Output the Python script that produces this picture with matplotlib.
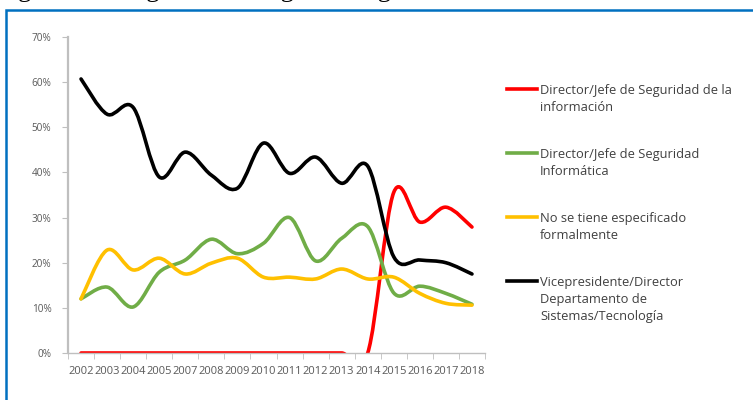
import matplotlib.pyplot as plt
from matplotlib.path import Path
from matplotlib.patches import PathPatch, Rectangle
from matplotlib.lines import Line2D

# values (percent)
years = ['2002', '2003', '2004', '2005', '2007', '2008', '2009', '2010',
         '2011', '2012', '2013', '2014', '2015', '2016', '2017', '2018']
red = [0, 0, 0, 0, 0, 0, 0, 0, 0, 0, 0, 0, 35.6, 29.0, 32.3, 27.9]
green = [12.0, 14.6, 10.2, 17.9, 20.6, 25.2, 22.0, 24.3, 30.0, 20.4, 25.4, 28.0, 13.3, 14.8, 13.2, 10.8]
yellow = [12.0, 22.8, 18.4, 21.0, 17.5, 19.9, 21.0, 16.8, 16.8, 16.4, 18.6, 16.4, 16.8, 13.2, 11.0, 10.6]
black = [60.7, 52.9, 54.4, 39.0, 44.5, 39.4, 36.5, 46.5, 39.8, 43.4, 37.6, 41.4, 21.3, 20.6, 20.0, 17.5]

labels = ['Director/Jefe de Seguridad de la\ninformación',
          'Director/Jefe de Seguridad\nInformática',
          'No se tiene especificado\nformalmente',
          'Vicepresidente/Director\nDepartamento de\nSistemas/Tecnología']
colors = ['#FF0000', '#70AD47', '#FFC000', '#000000']
series = [red, green, yellow, black]

W, H = 753, 400
fx = lambda px: px / W
fy = lambda py: 1 - py / H

fig = plt.figure(figsize=(W / 100, H / 100), dpi=100)
font = 'Open Sans'

# caption cut off at the top of the page (only the bottom of the letters shows)
fig.text(fx(-4), fy(-3), 'Figura 4. Categorías de cargos de seguridad de la información',
         family='Liberation Serif', fontsize=19, va='baseline', ha='left')
# blue frame
fig.add_artist(Rectangle((fx(6), fy(420)), fx(800), 410 / H, transform=fig.transFigure,
                         fill=False, edgecolor='#0070C0', lw=1.8))

ax = fig.add_axes([fx(68), fy(353), fx(485) - fx(68), (353 - 37) / H])


def smooth_path(y):
    # Excel-like smoothed line as cubic bezier segments
    n = len(y)
    x = list(range(n))
    verts = [(x[0], y[0])]
    codes = [Path.MOVETO]
    for i in range(n - 1):
        a = max(i - 1, 0)
        b = min(i + 2, n - 1)
        c1 = (x[i] + (x[i + 1] - x[a]) / 6, y[i] + (y[i + 1] - y[a]) / 6)
        c2 = (x[i + 1] - (x[b] - x[i]) / 6, y[i + 1] - (y[b] - y[i]) / 6)
        verts += [c1, c2, (x[i + 1], y[i + 1])]
        codes += [Path.CURVE4] * 3
    return Path(verts, codes)


clip = Rectangle((0, -0.004), 1, 1.004, transform=ax.transAxes, visible=False)
ax.add_patch(clip)
for vals, col in zip(series, colors):
    p = PathPatch(smooth_path(vals), fill=False, edgecolor=col, lw=2.6,
                  capstyle='round', joinstyle='round')
    ax.add_patch(p)
    p.set_clip_path(clip)

ax.set_xlim(-0.5, len(years) - 0.5)
ax.set_ylim(0, 70)
ax.set_yticks(range(0, 71, 10))
ax.set_yticklabels([f'{v}%' for v in range(0, 71, 10)])
ax.set_xticks(range(len(years)))
ax.set_xticklabels(years)
ax.set_xticks([i - 0.5 for i in range(len(years) + 1)], minor=True)
ax.tick_params(axis='x', which='major', length=0, pad=9, labelsize=8, labelcolor='#595959')
ax.tick_params(axis='x', which='minor', length=4, color='#BFBFBF', direction='out')
ax.tick_params(axis='y', length=4, color='#BFBFBF', pad=8, labelsize=7.2, labelcolor='#595959')
for lab in ax.get_xticklabels() + ax.get_yticklabels():
    lab.set_family(font)
for s in ['top', 'right']:
    ax.spines[s].set_visible(False)
ax.spines['left'].set_color('#BFBFBF')
ax.spines['left'].set_linewidth(1.6)
ax.spines['bottom'].set_color('#BFBFBF')
ax.spines['bottom'].set_linewidth(1.0)

# legend on the right
legend_y = [89, 153, 217, 281]
for lab, col, yy in zip(labels, colors, legend_y):
    fig.add_artist(Line2D([fx(507), fx(537)], [fy(yy), fy(yy)], color=col, lw=2.6,
                          transform=fig.transFigure))
    fig.text(fx(540), fy(yy - 5), lab, family=font, fontsize=9.3, color='#404040',
             va='top', ha='left', linespacing=1.42)

fig.savefig('out.png', dpi=100)
